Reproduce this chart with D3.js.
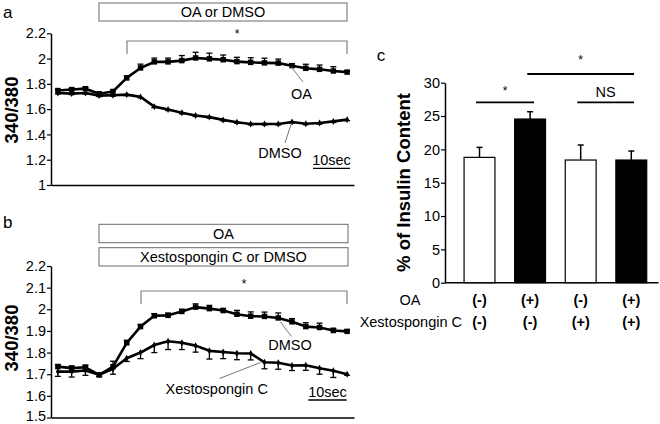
<!DOCTYPE html>
<html><head><meta charset="utf-8">
<script src="https://cdn.jsdelivr.net/npm/d3@7"></script>
<style>
body{margin:0;background:#fff}
svg{display:block}
text{font-family:"Liberation Sans",Arial,Helvetica,sans-serif;fill:#000}
</style>
</head><body>
<svg id="chart" width="660" height="424"></svg>
<script>
// ---------- DATA ----------
const timeIndex = [0,1,2,3,4,5,6,7,8,9,10,11,12,13,14,15,16,17,18,19,20,21];

// Panel a
const aTicks = [1, 1.2, 1.4, 1.6, 1.8, 2, 2.2];
const aOA = [1.747,1.755,1.762,1.722,1.740,1.847,1.926,1.974,1.974,1.984,2.005,1.998,1.991,1.976,1.970,1.966,1.964,1.944,1.923,1.915,1.902,1.893];
const aOAerr = [0.01,0.01,0.01,0.01,0.01,0.015,0.03,0.03,0.03,0.04,0.045,0.045,0.037,0.034,0.037,0.037,0.032,0.015,0.032,0.034,0.034,0.01];
const aDMSO = [1.728,1.723,1.728,1.707,1.710,1.715,1.697,1.620,1.597,1.571,1.550,1.537,1.515,1.497,1.483,1.483,1.483,1.498,1.485,1.490,1.503,1.517];
const aDMSOerr = [0.008,0.008,0.008,0.008,0.008,0.008,0.008,0.008,0.008,0.008,0.008,0.008,0.008,0.008,0.008,0.008,0.008,0.008,0.008,0.008,0.008,0.008];

// Panel b
const bTicks = [1.5, 1.6, 1.7, 1.8, 1.9, 2, 2.1, 2.2];
const bDMSO = [1.735,1.728,1.732,1.697,1.735,1.845,1.920,1.970,1.972,1.990,2.010,2.003,1.994,1.977,1.968,1.967,1.960,1.942,1.920,1.916,1.902,1.898];
const bDMSOerr = [0.01,0.01,0.01,0.005,0.025,0.012,0.01,0.01,0.01,0.01,0.015,0.015,0.01,0.018,0.02,0.02,0.023,0.015,0.018,0.02,0.01,0.008];
const bXesto = [1.712,1.712,1.717,1.697,1.725,1.774,1.800,1.835,1.852,1.845,1.832,1.808,1.803,1.797,1.796,1.755,1.753,1.740,1.741,1.728,1.716,1.700];
const bXestoErr = [0.022,0.025,0.022,0.008,0.025,0.015,0.028,0.035,0.038,0.031,0.03,0.038,0.031,0.03,0.03,0.03,0.03,0.023,0.023,0.028,0.031,0.005];

// Panel c
const cGroups = ["g1","g2","g3","g4"];
const cValues = [18.8, 24.55, 18.4, 18.4];
const cErrors = [1.5, 1.1, 2.25, 1.35];
const cOA = ["(-)","(+)","(-)","(+)"];
const cXesto = ["(-)","(-)","(+)","(+)"];
const cTicks = [0, 5, 10, 15, 20, 25, 30];

// ---------- DRAW ----------
const svg = d3.select("#chart");
const FS = 14.5;

function fmt(d){ return String(+d.toFixed(1)); }

function box(x1, x2, y1, y2, label){
  svg.append("rect").attr("x",x1).attr("y",y1).attr("width",x2-x1).attr("height",y2-y1)
    .attr("fill","#fff").attr("stroke","#6a6a6a").attr("stroke-width",1);
  svg.append("text").attr("x",(x1+x2)/2).attr("y",(y1+y2)/2+5).attr("text-anchor","middle")
    .attr("font-size",FS).text(label);
}
function bracket(x1, x2, yTop, yBot){
  svg.append("path").attr("d",`M${x1},${yBot}V${yTop}H${x2}V${yBot}`)
    .attr("fill","none").attr("stroke","#808080").attr("stroke-width",1.2);
  svg.append("text").attr("x",(x1+x2)/2).attr("y",yTop-3).attr("text-anchor","middle")
    .attr("font-size",12).text("*");
}
function connector(x1,y1,x2,y2){
  svg.append("line").attr("x1",x1).attr("y1",y1).attr("x2",x2).attr("y2",y2)
    .attr("stroke","#666").attr("stroke-width",0.9);
}
function label(x,y,t,size,anchor){
  svg.append("text").attr("x",x).attr("y",y).attr("text-anchor",anchor||"middle")
    .attr("font-size",size||FS).text(t);
}
function scaleBar(x1,x2,y){
  label((x1+x2)/2, y-3, "10sec", FS);
  svg.append("line").attr("x1",x1).attr("x2",x2).attr("y1",y).attr("y2",y)
    .attr("stroke","#000").attr("stroke-width",1.3);
}

function linePanel(o){
  const x = d3.scaleLinear().domain([-0.5, 21.5]).range([51, 354]);
  const y = d3.scaleLinear().domain(o.domain).range(o.range);
  const g = svg.append("g");
  // y axis
  const ya = g.append("g").attr("transform","translate(51,0)")
    .call(d3.axisLeft(y).tickValues(o.ticks).tickFormat(fmt).tickSize(4).tickSizeOuter(0));
  ya.select(".domain").attr("stroke","#000").attr("stroke-width",1.5);
  ya.selectAll(".tick line").attr("stroke","#000").attr("stroke-width",1.2);
  ya.selectAll(".tick text").attr("font-size",FS).attr("font-family",'"Liberation Sans",Arial,sans-serif').attr("fill","#000").attr("x",-5)
    .attr("dy", (d,i)=> i===0 && o.range[0] > 400 ? "0.2em" : "0.32em");
  // x axis (no ticks)
  const xa = g.append("g").attr("transform",`translate(0,${o.range[0]})`)
    .call(d3.axisBottom(x).tickValues([]).tickSizeOuter(0));
  xa.select(".domain").attr("stroke","#000").attr("stroke-width",1.5);

  o.series.forEach(s=>{
    const pts = timeIndex.map((t,i)=>({t, v:s.values[i], e:s.err[i]}));
    // error bars
    const eg = g.append("g").attr("stroke","#000").attr("stroke-width",1.3);
    pts.forEach(p=>{
      const y0 = y(p.v), y1 = y(p.v + s.dir*p.e), cx = x(p.t);
      eg.append("line").attr("x1",cx).attr("x2",cx).attr("y1",y0).attr("y2",y1);
      eg.append("line").attr("x1",cx-3).attr("x2",cx+3).attr("y1",y1).attr("y2",y1);
    });
    g.append("path").datum(pts)
      .attr("d", d3.line().x(p=>x(p.t)).y(p=>y(p.v)))
      .attr("fill","none").attr("stroke","#000").attr("stroke-width",2.6).attr("stroke-linejoin","round");
    g.selectAll(null).data(pts).enter().append("path")
      .attr("transform",p=>`translate(${x(p.t)},${y(p.v)})`)
      .attr("d", d3.symbol().type(s.symbol).size(s.size))
      .attr("fill","#000");
  });
  // y label
  svg.append("text").attr("transform",`translate(${o.labelX},${o.labelY}) rotate(-90)`)
    .attr("text-anchor","middle").attr("font-size",18.5).attr("font-weight","bold").text("340/380");
  return {x,y};
}

// ---- Panel a ----
label(3, 18, "a", 17, "start");
box(99, 347, 3, 21, "OA or DMSO");
linePanel({
  domain:[1,2.2], range:[185,33.3], ticks:aTicks, labelX:18, labelY:110,
  series:[
    {values:aDMSO, err:aDMSOerr, dir:-1, symbol:d3.symbolDiamond, size:14},
    {values:aOA, err:aOAerr, dir:1, symbol:d3.symbolSquare, size:30}
  ]
});
bracket(127, 347, 41, 54);
connector(291, 66.5, 303, 82);
label(301.5, 98.5, "OA");
connector(291.5, 123, 285, 143);
label(280, 158, "DMSO");
scaleBar(313, 350, 168.3);

// ---- Panel b ----
label(3, 228, "b", 17, "start");
box(99, 348, 224.3, 242.7, "OA");
box(99, 348, 247.7, 266, "Xestospongin C or DMSO");
linePanel({
  domain:[1.5,2.2], range:[417.5,266], ticks:bTicks, labelX:18, labelY:338,
  series:[
    {values:bXesto, err:bXestoErr, dir:-1, symbol:d3.symbolDiamond, size:14},
    {values:bDMSO, err:bDMSOerr, dir:1, symbol:d3.symbolSquare, size:30}
  ]
});
bracket(141, 347, 291, 304);
connector(280.5, 322, 291.5, 336.5);
label(290, 350, "DMSO");
connector(219.5, 378.5, 260.5, 362.5);
label(216.7, 393.5, "Xestospongin C");
scaleBar(308.3, 346.7, 400);

// ---- Panel c ----
label(381, 61, "c", 17, "middle");
const xc = d3.scaleBand().domain(cGroups).range([454.2, 656.6]).paddingInner(0.39).paddingOuter(0.195);
const yc = d3.scaleLinear().domain([0,30]).range([282.7, 82.7]);
const ca = svg.append("g").attr("transform","translate(445,0)")
  .call(d3.axisLeft(yc).tickValues(cTicks).tickSize(4).tickSizeOuter(0));
ca.select(".domain").attr("stroke","#000").attr("stroke-width",1.5);
ca.selectAll(".tick line").attr("stroke","#000").attr("stroke-width",1.2);
ca.selectAll(".tick text").attr("font-size",FS).attr("font-family",'"Liberation Sans",Arial,sans-serif').attr("fill","#000").attr("x",-5);
svg.append("line").attr("x1",445).attr("x2",658.5).attr("y1",282.7).attr("y2",282.7)
  .attr("stroke","#000").attr("stroke-width",1.5);

const bw = xc.bandwidth();
cGroups.forEach((gName,i)=>{
  const cx = xc(gName) + bw/2;
  // error bar
  svg.append("line").attr("x1",cx).attr("x2",cx).attr("y1",yc(cValues[i])).attr("y2",yc(cValues[i]+cErrors[i]))
    .attr("stroke","#000").attr("stroke-width",1.5);
  svg.append("line").attr("x1",cx-3).attr("x2",cx+3).attr("y1",yc(cValues[i]+cErrors[i])).attr("y2",yc(cValues[i]+cErrors[i]))
    .attr("stroke","#000").attr("stroke-width",1.5);
  svg.append("rect").attr("x",xc(gName)).attr("width",bw)
    .attr("y",yc(cValues[i])).attr("height",yc(0)-yc(cValues[i]))
    .attr("fill", cOA[i]==="(+)" ? "#000" : "#fff").attr("stroke","#000").attr("stroke-width",1.2);
  svg.append("text").attr("x",cx).attr("y",304.5).attr("text-anchor","middle")
    .attr("font-size",FS).attr("font-weight","bold").text(cOA[i]);
  svg.append("text").attr("x",cx).attr("y",327).attr("text-anchor","middle")
    .attr("font-size",FS).attr("font-weight","bold").text(cXesto[i]);
});
label(410, 304.5, "OA");
label(462, 327, "Xestospongin C", FS, "end");

svg.append("text").attr("transform","translate(409.5,182.5) rotate(-90)")
  .attr("text-anchor","middle").attr("font-size",18.5).attr("font-weight","bold").text("% of Insulin Content");

// significance lines
function sig(x1,x2,yy,t,ty,size){
  svg.append("line").attr("x1",x1).attr("x2",x2).attr("y1",yy).attr("y2",yy).attr("stroke","#000").attr("stroke-width",1.8);
  svg.append("text").attr("x",(x1+x2)/2).attr("y",ty).attr("text-anchor","middle").attr("font-size",size).text(t);
}
sig(476, 534, 102.3, "*", 95, 12);
sig(527.3, 634, 74, "*", 64, 12);
sig(577.3, 634, 102.3, "NS", 97, FS);
</script>
</body></html>
